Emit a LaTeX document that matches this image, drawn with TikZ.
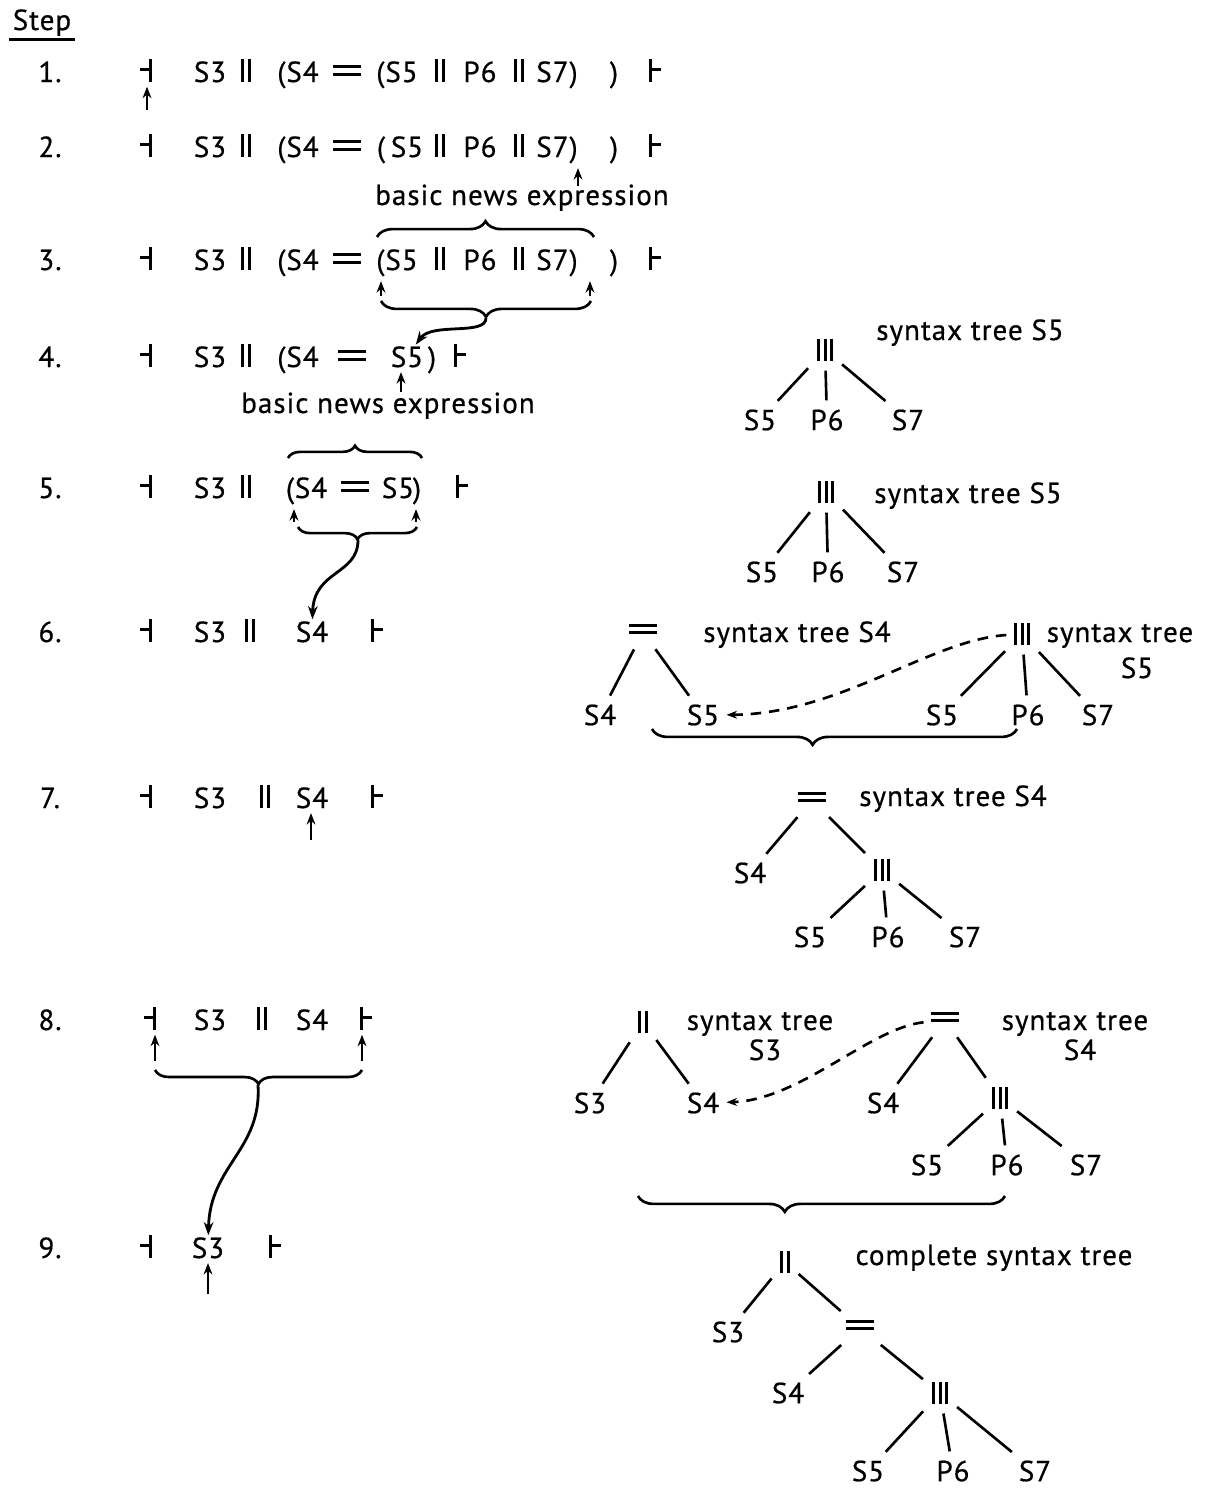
\documentclass[tikz,border=0pt]{standalone}
\usepackage{fontspec}
\setmainfont{PT Sans}[LetterSpace=3.5, FakeBold=0.6]
\usetikzlibrary{decorations.pathreplacing, arrows.meta}
\newcommand{\vbar}{\rule{1.7pt}{13pt}}
\newcommand{\opii}{\vbar\kern2.2pt\vbar}
\newcommand{\opiii}{\vbar\kern2.2pt\vbar\kern2.2pt\vbar}
\newcommand{\opeq}{\rule[3.4pt]{16pt}{1.8pt}\llap{\rule[7.8pt]{16pt}{1.8pt}}}
\newcommand{\lend}{\rule[6.5pt]{5pt}{1.4pt}\rule{1.8pt}{13pt}}
\newcommand{\rend}{\rule{1.8pt}{13pt}\rule[6.5pt]{5pt}{1.4pt}}
\begin{document}
\begin{tikzpicture}[x=0.02cm, y=-0.02cm, font=\fontsize{16.5}{19}\selectfont,
	tok/.style={anchor=base, inner sep=0pt},
	lbl/.style={anchor=base, inner sep=0pt},
	tn/.style={inner sep=4pt},
	branch/.style={line width=1.5pt, shorten <=1pt, shorten >=1pt},
	ptr/.style={-{Stealth[length=6.5pt,width=5pt]}, line width=1.6pt, shorten >=2.5pt},
	curvarr/.style={-{Stealth[length=7.5pt,width=5.5pt]}, line width=1.6pt, shorten >=1pt},
	dsh/.style={-{Stealth[length=6pt,width=4.5pt]}, line width=1.5pt, dash pattern=on 6pt off 4.5pt},
	brc/.style={line width=1.5pt, decorate, decoration={brace, amplitude=9pt}},
	brcdn/.style={line width=1.5pt, decorate, decoration={brace, mirror, amplitude=9pt}}]
	\useasboundingbox (0,0) rectangle (1215,1488);
	% step column
	\node[lbl, inner sep=2pt] (step) at (42,30) {Step};
	\draw[line width=1.4pt] (step.south west) -- (step.south east);
	\foreach \y/\n in {82/1., 157/2., 270/3., 367/4., 498/5., 642/6., 808/7., 1030/8., 1258/9.}
		\node[tok] at (50,\y) {\n};
	% row 1
	\node[tok] (l1) at (146,82) {\lend};
	\foreach \x/\t in {210/S3, 246/\opii, 298/{(S4}, 347/\opeq, 397/{(S5}, 440/\opii, 480/P6, 519/\opii, 557/{S7)}, 614/{)}, 655/\rend}
		\node[tok] at (\x,82) {\t};
	\coordinate (p1) at (147,110);
	\draw[ptr] (p1) -- (p1 |- l1.south);
	% row 2
	\node[tok] (l2) at (146,157) {\lend};
	\node[tok] (r2s7) at (557,157) {S7)};
	\foreach \x/\t in {210/S3, 246/\opii, 298/{(S4}, 347/\opeq, 381/{(}, 407/S5, 440/\opii, 480/P6, 519/\opii, 614/{)}, 655/\rend}
		\node[tok] at (\x,157) {\t};
	\coordinate (p2) at (578,186);
	\draw[ptr] (p2) -- (p2 |- r2s7.south);
	\node[lbl] (bne1) at (522,205) {basic news expression};
	% row 3
	\node[tok] (l3) at (146,270) {\lend};
	\node[tok] (r3a) at (397,270) {(S5};
	\node[tok] (r3b) at (557,270) {S7)};
	\foreach \x/\t in {210/S3, 246/\opii, 298/{(S4}, 347/\opeq, 440/\opii, 480/P6, 519/\opii, 614/{)}, 655/\rend}
		\node[tok] at (\x,270) {\t};
	\draw[brc] (377,237) -- (594,237);
	\coordinate (p3l) at (381,296);
	\coordinate (p3r) at (590,296);
	\draw[ptr] (p3l) -- (p3l |- r3a.south);
	\draw[ptr] (p3r) -- (p3r |- r3b.south);
	\draw[brcdn] (381,301) -- (591,301);
	\coordinate (t3) at (486,318);
	% row 4
	\node[tok] (l4) at (146,367) {\lend};
	\node[tok] (r4s5) at (407,367) {S5};
	\foreach \x/\t in {210/S3, 246/\opii, 298/{(S4}, 352/\opeq, 432/{)}, 460/\rend}
		\node[tok] at (\x,367) {\t};
	\draw[curvarr] (t3) .. controls (486,336) and (432,322) .. (r4s5);
	\coordinate (p4) at (401,392);
	\draw[ptr] (p4) -- (p4 |- r4s5.south);
	\node[lbl] (bne2) at (388,413) {basic news expression};
	% row 5
	\node[tok] (l5) at (146,498) {\lend};
	\node[tok] (r5a) at (290,498) {(};
	\node[tok] (r5b) at (417,498) {)};
	\foreach \x/\t in {210/S3, 246/\opii, 311/S4, 355/\opeq, 398/S5, 462/\rend}
		\node[tok] at (\x,498) {\t};
	\draw[brc, decoration={amplitude=7pt}] (288,458) -- (422,458);
	\coordinate (p5l) at (294,522);
	\coordinate (p5r) at (416,522);
	\draw[ptr] (p5l) -- (p5l |- r5a.south);
	\draw[ptr] (p5r) -- (p5r |- r5b.south);
	\draw[brcdn, decoration={amplitude=7pt}] (298,527) -- (417,527);
	\coordinate (t5) at (358,540);
	% row 6
	\node[tok] (l6) at (146,642) {\lend};
	\node[tok] (r6s4) at (312,642) {S4};
	\foreach \x/\t in {210/S3, 250/\opii, 377/\rend}
		\node[tok] at (\x,642) {\t};
	\draw[curvarr] (t5) .. controls (358,575) and (314,570) .. (r6s4);
	% row 7
	\node[tok] (l7) at (146,808) {\lend};
	\node[tok] (r7s4) at (312,808) {S4};
	\foreach \x/\t in {210/S3, 265/\opii, 377/\rend}
		\node[tok] at (\x,808) {\t};
	\coordinate (p7) at (311,840);
	\draw[ptr] (p7) -- (p7 |- r7s4.south);
	% row 8
	\node[tok] (l8) at (150,1030) {\lend};
	\node[tok] (r8) at (366,1030) {\rend};
	\foreach \x/\t in {210/S3, 262/\opii, 312/S4}
		\node[tok] at (\x,1030) {\t};
	\coordinate (p8l) at (155,1061);
	\coordinate (p8r) at (362,1061);
	\draw[ptr] (p8l) -- (p8l |- l8.south);
	\draw[ptr] (p8r) -- (p8r |- r8.south);
	\draw[brcdn, decoration={amplitude=8pt}] (155,1070) -- (362,1070);
	\coordinate (t8) at (258,1085);
	% row 9
	\node[tok] (l9) at (146,1258) {\lend};
	\node[tok] (r9s3) at (208,1258) {S3};
	\node[tok] (r9) at (275,1258) {\rend};
	\draw[curvarr] (t8) .. controls (262,1150) and (210,1165) .. (r9s3);
	\coordinate (p9) at (208,1294);
	\draw[ptr] (p9) -- (p9 |- r9s3.south);
	% tree A
	\node[tn] (rA) at (825,350) {\opiii};
	\node[tn] (a1) at (760,420) {S5};
	\node[tn] (a2) at (827,420) {P6};
	\node[tn] (a3) at (908,420) {S7};
	\node[lbl] at (970,340) {syntax tree S5};
	% tree B
	\node[tn] (rB) at (826,492) {\opiii};
	\node[tn] (b1) at (762,572) {S5};
	\node[tn] (b2) at (828,572) {P6};
	\node[tn] (b3) at (903,572) {S7};
	\node[lbl] at (968,503) {syntax tree S5};
	% trees C and D
	\node[tn] (rC) at (643,632) {\opeq};
	\node[tn] (c1) at (600,715) {S4};
	\node[tn] (c2) at (703,715) {S5};
	\node[lbl] at (797,642) {syntax tree S4};
	\node[tn] (rD) at (1022,634) {\opiii};
	\node[tn] (d1) at (942,715) {S5};
	\node[tn] (d2) at (1028,715) {P6};
	\node[tn] (d3) at (1098,715) {S7};
	\node[lbl] at (1120,642) {syntax tree};
	\node[lbl] at (1137,678) {S5};
	\draw[dsh] (rD) .. controls (930,640) and (840,714) .. (c2);
	\draw[brcdn, decoration={aspect=0.44}] (652,729) -- (1017,729);
	% tree E
	\node[tn] (rE) at (812,800) {\opeq};
	\node[tn] (e1) at (750,873) {S4};
	\node[tn] (e2) at (882,870) {\opiii};
	\node[tn] (e3) at (810,937) {S5};
	\node[tn] (e4) at (888,937) {P6};
	\node[tn] (e5) at (965,937) {S7};
	\node[lbl] at (953,806) {syntax tree S4};
	% trees F and G
	\node[tn] (rF) at (643,1022) {\opii};
	\node[tn] (f1) at (590,1103) {S3};
	\node[tn] (f2) at (703,1103) {S4};
	\node[lbl] at (760,1030) {syntax tree};
	\node[lbl] at (765,1060) {S3};
	\node[tn] (rG) at (945,1020) {\opeq};
	\node[tn] (g1) at (883,1103) {S4};
	\node[tn] (g2) at (1000,1098) {\opiii};
	\node[tn] (g3) at (927,1165) {S5};
	\node[tn] (g4) at (1007,1165) {P6};
	\node[tn] (g5) at (1086,1165) {S7};
	\node[lbl] at (1075,1030) {syntax tree};
	\node[lbl] at (1080,1060) {S4};
	\draw[dsh] (rG) .. controls (870,1028) and (800,1100) .. (f2);
	\draw[brcdn, decoration={aspect=0.4}] (638,1196) -- (1005,1196);
	% tree H
	\node[tn] (rH) at (785,1262) {\opii};
	\node[tn] (h1) at (728,1332) {S3};
	\node[tn] (h2) at (860,1328) {\opeq};
	\node[tn] (h3) at (788,1393) {S4};
	\node[tn] (h4) at (940,1393) {\opiii};
	\node[tn] (h5) at (868,1471) {S5};
	\node[tn] (h6) at (953,1471) {P6};
	\node[tn] (h7) at (1035,1471) {S7};
	\node[lbl] at (994,1265) {complete syntax tree};
	\foreach \p/\q in {rA/a1, rA/a2, rA/a3, rB/b1, rB/b2, rB/b3, rC/c1, rC/c2, rD/d1, rD/d2, rD/d3,
		rE/e1, rE/e2, e2/e3, e2/e4, e2/e5, rF/f1, rF/f2, rG/g1, rG/g2, g2/g3, g2/g4, g2/g5,
		rH/h1, rH/h2, h2/h3, h2/h4, h4/h5, h4/h6, h4/h7}
		\draw[branch] (\p) -- (\q);
\end{tikzpicture}
\end{document}
